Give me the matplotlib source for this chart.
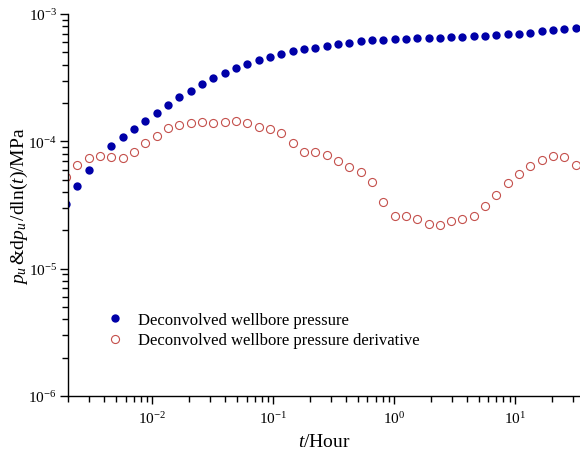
import numpy as np
import matplotlib
matplotlib.use('Agg')
import matplotlib.pyplot as plt
from matplotlib.ticker import LogLocator, LogFormatterSciNotation

plt.rcParams['font.family'] = 'Liberation Serif'
plt.rcParams['mathtext.fontset'] = 'custom'
plt.rcParams['mathtext.rm'] = 'Liberation Serif'
plt.rcParams['mathtext.it'] = 'Liberation Serif:italic'
plt.rcParams['axes.unicode_minus'] = False

# time, hours
t = [0.001925, 0.002389, 0.002963, 0.003677, 0.004563, 0.005662, 0.007026, 0.008720,
     0.01082, 0.01342, 0.01666, 0.02067, 0.02564, 0.03182, 0.03949, 0.04900,
     0.06080, 0.07545, 0.09362, 0.1161, 0.1441, 0.1788, 0.2219, 0.2754,
     0.3417, 0.4240, 0.5260, 0.6528, 0.8100, 1.005, 1.247, 1.547,
     1.920, 2.382, 2.956, 3.667, 4.551, 5.647, 7.007, 8.695,
     10.79, 13.39, 16.61, 20.61, 25.58, 31.73]

# deconvolved wellbore pressure, MPa (one point missing in the source)
pressure = [3.22e-5, 4.43e-5, 5.99e-5, np.nan, 9.24e-5, 1.088e-4, 1.250e-4, 1.437e-4,
            1.660e-4, 1.929e-4, 2.217e-4, 2.497e-4, 2.805e-4, 3.126e-4, 3.421e-4, 3.746e-4,
            4.049e-4, 4.352e-4, 4.620e-4, 4.878e-4, 5.095e-4, 5.282e-4, 5.436e-4, 5.636e-4,
            5.812e-4, 5.950e-4, 6.103e-4, 6.215e-4, 6.283e-4, 6.363e-4, 6.397e-4, 6.444e-4,
            6.479e-4, 6.515e-4, 6.561e-4, 6.597e-4, 6.682e-4, 6.755e-4, 6.841e-4, 6.928e-4,
            7.004e-4, 7.132e-4, 7.314e-4, 7.447e-4, 7.583e-4, 7.765e-4]

# pressure derivative, MPa
derivative = [5.22e-5, 6.55e-5, 7.40e-5, 7.63e-5, 7.57e-5, 7.40e-5, 8.20e-5, 9.70e-5,
              1.107e-4, 1.265e-4, 1.351e-4, 1.401e-4, 1.411e-4, 1.386e-4, 1.426e-4, 1.444e-4,
              1.393e-4, 1.295e-4, 1.257e-4, 1.162e-4, 9.70e-5, 8.20e-5, 8.20e-5, 7.85e-5,
              7.05e-5, 6.25e-5, 5.77e-5, 4.77e-5, 3.36e-5, 2.58e-5, 2.58e-5, 2.45e-5,
              2.23e-5, 2.21e-5, 2.36e-5, 2.44e-5, 2.58e-5, 3.09e-5, 3.81e-5, 4.68e-5,
              5.57e-5, 6.44e-5, 7.10e-5, 7.63e-5, 7.53e-5, 6.55e-5]

fig = plt.figure(figsize=(5.8, 4.56), dpi=100)
ax = fig.add_axes([68 / 580, 59 / 456, 512 / 580, 382 / 456])

ax.plot(t, pressure, 'o', color='#0000A8', markersize=6.0, markeredgewidth=0,
        label='Deconvolved wellbore pressure')
ax.plot(t, derivative, 'o', markerfacecolor='none', markeredgecolor='#C4504C',
        markersize=5.8, markeredgewidth=0.8,
        label='Deconvolved wellbore pressure derivative')

ax.set_xscale('log')
ax.set_yscale('log')
ax.set_xlim(0.0020, 34.4)
ax.set_ylim(1e-6, 1e-3)

for s in ['top', 'right']:
    ax.spines[s].set_visible(False)
for s in ['left', 'bottom']:
    ax.spines[s].set_linewidth(1.0)

ax.xaxis.set_major_locator(LogLocator(base=10, numticks=10))
ax.xaxis.set_minor_locator(LogLocator(base=10, subs=np.arange(2, 10), numticks=10))
ax.yaxis.set_major_locator(LogLocator(base=10, numticks=10))
ax.yaxis.set_minor_locator(LogLocator(base=10, subs=np.arange(2, 10), numticks=10))
ax.xaxis.set_major_formatter(LogFormatterSciNotation())
ax.yaxis.set_major_formatter(LogFormatterSciNotation())

ax.tick_params(which='major', direction='out', length=6, width=1.0, labelsize=11, pad=4)
ax.tick_params(which='minor', direction='out', length=4, width=1.0)
ax.tick_params(axis='y', which='major', pad=2)

ax.set_xlabel('$t$/Hour', fontsize=14, labelpad=5)
ax.set_ylabel('$p_u\\,$&d$p_u\\,$/dln($t$)/MPa', fontsize=14, labelpad=-1)

ax.legend(loc='center left', bbox_to_anchor=(107 / 580, 1 - 331 / 456),
          bbox_transform=fig.transFigure, frameon=False, fontsize=12,
          handlelength=1.0, handletextpad=0.85, labelspacing=0.28,
          borderpad=0, borderaxespad=0, numpoints=1)

fig.savefig('out.png', dpi=100)
